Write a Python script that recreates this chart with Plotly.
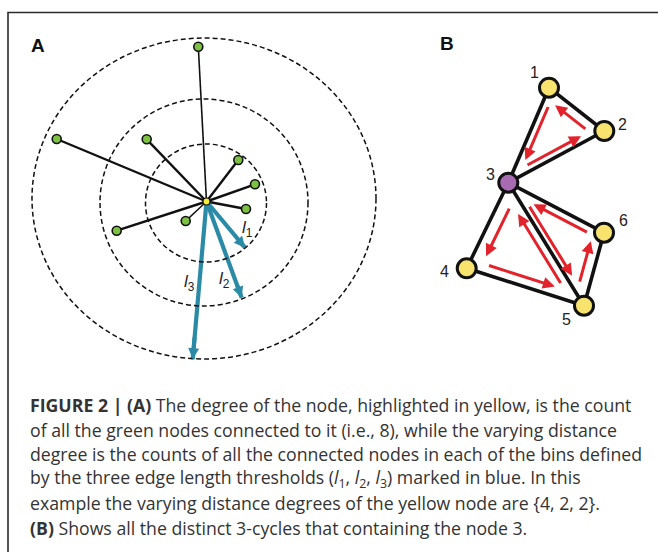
import plotly.graph_objects as go
import numpy as np

W, H = 658, 552

# ---------------- Panel A data ----------------
hub_A = (206.5, 201.5)
leaf_x = [198.3, 56.7, 146.7, 238.3, 255.0, 246.0, 185.7, 116.7]
leaf_y = [46.7, 139.0, 139.3, 160.0, 184.3, 209.0, 221.0, 230.7]
leaf_w = [1.6, 2.4, 2.4, 2.4, 2.4, 2.4, 1.6, 2.4]

ring_cx = [204.0, 204.0, 206.0]
ring_cy = [198.5, 202.5, 203.0]
ring_rx = [172.0, 104.0, 60.5]
ring_ry = [160.5, 103.5, 59.0]

thr_x = [245.0, 241.7, 192.7]
thr_y = [247.7, 297.7, 359.3]
thr_names = ["<i>l</i><sub>1</sub>", "<i>l</i><sub>2</sub>", "<i>l</i><sub>3</sub>"]
thr_lab_x = [247.0, 224.0, 189.0]
thr_lab_y = [229.0, 280.0, 283.0]

# ---------------- Panel B data ----------------
b_ids = [1, 2, 3, 4, 5, 6]
b_x = [549.0, 604.3, 508.3, 466.7, 584.0, 604.0]
b_y = [87.7, 131.0, 182.7, 268.3, 305.7, 232.7]
b_fill = ["#f8e36e", "#f8e36e", "#a66bb0", "#f8e36e", "#f8e36e", "#f8e36e"]
b_lab_x = [534.5, 622.0, 490.0, 444.0, 566.5, 623.0]
b_lab_y = [72.0, 124.5, 174.0, 271.0, 319.0, 220.0]
b_edges = [(1, 2), (1, 3), (2, 3), (3, 4), (3, 5), (3, 6), (4, 5), (5, 6)]
b_cycles = [(1, 3, 2), (3, 4, 5), (3, 5, 6)]

panel_labels = ["A", "B"]
panel_lab_x = [38.0, 447.0]
panel_lab_y = [45.0, 43.0]

caption_lines = [
    "<b>FIGURE 2 | (A)</b> The degree of the node, highlighted in yellow, is the count",
    "of all the green nodes connected to it (i.e., 8), while the varying distance",
    "degree is the counts of all the connected nodes in each of the bins defined",
    "by the three edge length thresholds (<i>l</i><sub>1</sub>, <i>l</i><sub>2</sub>, <i>l</i><sub>3</sub>) marked in blue. In this",
    "example the varying distance degrees of the yellow node are {4, 2, 2}.",
    "<b>(B)</b> Shows all the distinct 3-cycles that containing the node 3.",
]
caption_y = [405.0, 429.5, 454.0, 478.5, 503.0, 527.5]

fig = go.Figure()

shapes = []
for cx, cy, rx, ry in zip(ring_cx, ring_cy, ring_rx, ring_ry):
    shapes.append(dict(type="circle", xref="x", yref="y",
                       x0=cx - rx, x1=cx + rx, y0=cy - ry, y1=cy + ry,
                       line=dict(color="#111111", width=1.5, dash="5px,3px")))
shapes.append(dict(type="path", xref="x", yref="y",
                   path=f"M 8,{H + 5} L 8,12.5 L {W + 5},12.5",
                   line=dict(color="#2a2a2a", width=1.6)))

# edges in A
for x, y, w in zip(leaf_x, leaf_y, leaf_w):
    fig.add_trace(go.Scatter(x=[hub_A[0], x], y=[hub_A[1], y], mode="lines",
                             line=dict(color="#111111", width=w),
                             hoverinfo="skip", showlegend=False))

annotations = []
BLUE = "#2b8ba6"
RED = "#e3232b"

# threshold arrows: shaft as a trace (under the hub), head as annotation
for x, y in zip(thr_x, thr_y):
    fig.add_trace(go.Scatter(x=[hub_A[0], x], y=[hub_A[1], y], mode="lines",
                             line=dict(color=BLUE, width=4.2),
                             hoverinfo="skip", showlegend=False))
    tx = hub_A[0] + 0.85 * (x - hub_A[0])
    ty = hub_A[1] + 0.85 * (y - hub_A[1])
    annotations.append(dict(x=x, y=y, ax=tx, ay=ty, xref="x", yref="y",
                            axref="x", ayref="y", text="", showarrow=True,
                            arrowhead=2, arrowsize=0.55, arrowwidth=4,
                            arrowcolor=BLUE, standoff=0))

# leaf nodes
fig.add_trace(go.Scatter(x=leaf_x, y=leaf_y, mode="markers",
                         marker=dict(size=9, color="#7dc142",
                                     line=dict(color="#111111", width=1.6)),
                         hoverinfo="skip", showlegend=False))
fig.add_trace(go.Scatter(x=[hub_A[0]], y=[hub_A[1]], mode="markers",
                         marker=dict(size=7, color="#f2ec3a",
                                     line=dict(color="#111111", width=1.2)),
                         hoverinfo="skip", showlegend=False))

# edges in B
pos = {i: (x, y) for i, x, y in zip(b_ids, b_x, b_y)}
for a, b in b_edges:
    fig.add_trace(go.Scatter(x=[pos[a][0], pos[b][0]], y=[pos[a][1], pos[b][1]],
                             mode="lines", line=dict(color="#111111", width=3.6),
                             hoverinfo="skip", showlegend=False))

# B nodes
fig.add_trace(go.Scatter(x=b_x, y=b_y, mode="markers",
                         marker=dict(size=19, color=b_fill,
                                     line=dict(color="#111111", width=3)),
                         hoverinfo="skip", showlegend=False))

# cycle arrows (inset inside each triangle)
shrink, t0, t1 = 0.70, 0.06, 0.88
for cyc in b_cycles:
    pts = np.array([pos[c] for c in cyc])
    cen = pts.mean(axis=0)
    ins = cen + shrink * (pts - cen)
    for k in range(3):
        P, Q = ins[k], ins[(k + 1) % 3]
        s = P + t0 * (Q - P)
        e = P + t1 * (Q - P)
        annotations.append(dict(x=e[0], y=e[1], ax=s[0], ay=s[1], xref="x", yref="y",
                                axref="x", ayref="y", text="", showarrow=True,
                                arrowhead=2, arrowsize=0.8, arrowwidth=3.0,
                                arrowcolor=RED, standoff=0))

for t, x, y in zip(panel_labels, panel_lab_x, panel_lab_y):
    annotations.append(dict(x=x, y=y, xref="x", yref="y", text=f"<b>{t}</b>",
                            showarrow=False,
                            font=dict(family="Liberation Sans", size=19, color="#111111")))
for t, x, y in zip(thr_names, thr_lab_x, thr_lab_y):
    annotations.append(dict(x=x, y=y, xref="x", yref="y", text=t, showarrow=False,
                            font=dict(family="Liberation Sans", size=17, color="#222222")))
for i, x, y in zip(b_ids, b_lab_x, b_lab_y):
    annotations.append(dict(x=x, y=y, xref="x", yref="y", text=str(i), showarrow=False,
                            font=dict(family="Liberation Sans", size=16, color="#222222")))
for t, y in zip(caption_lines, caption_y):
    annotations.append(dict(x=28, y=y, xref="x", yref="y", text=t, showarrow=False,
                            xanchor="left", yanchor="middle",
                            font=dict(family="Open Sans", size=17.7, color="#333333")))

fig.update_layout(
    width=W, height=H, margin=dict(l=0, r=0, t=0, b=0),
    paper_bgcolor="white", plot_bgcolor="white",
    xaxis=dict(range=[0, W], visible=False, fixedrange=True),
    yaxis=dict(range=[H, 0], visible=False, fixedrange=True),
    shapes=shapes, annotations=annotations, showlegend=False,
)

fig.write_html("out.html", config={"displayModeBar": False},
               post_script="document.body.style.margin='0';")
